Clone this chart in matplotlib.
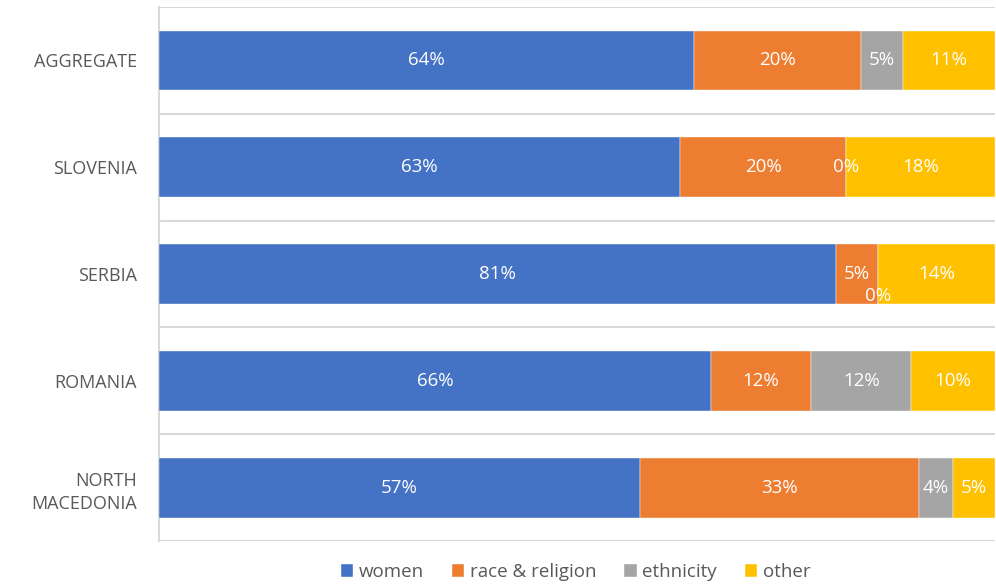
import matplotlib
matplotlib.use("Agg")
import matplotlib.pyplot as plt
import numpy as np

plt.rcParams['font.family'] = ['Open Sans', 'DejaVu Sans']

categories = ["AGGREGATE", "SLOVENIA", "SERBIA", "ROMANIA", "NORTH\nMACEDONIA"]
series_names = ["women", "race & religion", "ethnicity", "other"]
women = [64, 63, 81, 66, 57]
race_religion = [20, 20, 5, 12, 33]
ethnicity = [5, 0, 0, 12, 4]
other = [11, 18, 14, 10, 5]

colors = ["#4472C4", "#ED7D31", "#A5A5A5", "#FFC000"]

data = np.array([women, race_religion, ethnicity, other], dtype=float)
totals = data.sum(axis=0)
shares = data / totals  # 100% stacked

fig = plt.figure(figsize=(9.96, 5.86), dpi=100)
ax = fig.add_axes([0.1596, 0.0768, 0.8394, 0.9112])

y = np.arange(len(categories))
left = np.zeros(len(categories))
bar_h = 0.56
for i, name in enumerate(series_names):
    bars = ax.barh(y, shares[i], left=left, height=bar_h, color=colors[i],
                   label=name, edgecolor='white', linewidth=0.3, zorder=3)
    for j, b in enumerate(bars):
        cx = left[j] + shares[i][j] / 2
        dy = 0
        # Excel shifted the overlapping Serbia 0% label downwards
        if data[i][j] == 0 and categories[j] == "SERBIA":
            dy = -16
        ax.annotate(f"{int(data[i][j])}%", (cx, y[j]), xytext=(0, dy),
                    textcoords='offset points', ha='center', va='center',
                    color='white', fontsize=13.5, zorder=5)
    left += shares[i]

ax.set_xlim(0, 1)
ax.set_ylim(len(categories) - 0.5, -0.5)
ax.set_yticks(y)
ax.set_yticklabels(categories, fontsize=13, color='#595959', linespacing=1.4)
ax.tick_params(axis='y', length=0, pad=16)
ax.set_xticks([])
ax.set_yticks(np.arange(-0.5, len(categories), 1), minor=True)
ax.tick_params(axis='y', which='minor', length=0)
ax.grid(axis='y', which='minor', color='#D9D9D9', linewidth=1.5, zorder=0)
ax.grid(axis='y', which='major', visible=False)
for s in ['top', 'right', 'bottom']:
    ax.spines[s].set_visible(False)
ax.spines['left'].set_color('#D9D9D9')
ax.spines['left'].set_linewidth(1.5)

leg = fig.legend(loc='lower center', bbox_to_anchor=(0.578, -0.02), ncol=4,
                 frameon=False, fontsize=13.5, handlelength=0.65, handleheight=0.65,
                 handletextpad=0.3, columnspacing=1.5)
for t in leg.get_texts():
    t.set_color('#595959')

fig.savefig("out.png", dpi=100)
